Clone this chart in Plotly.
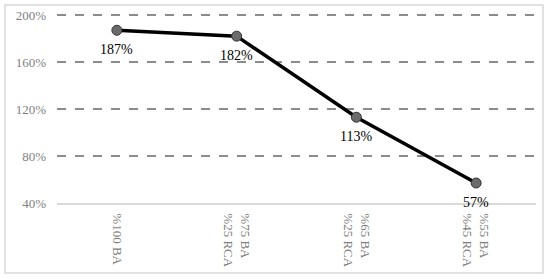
import plotly.graph_objects as go

categories = ["%100 BA", "%75 BA<br>%25 RCA", "%65 BA<br>%25 RCA", "%55 BA<br>%45 RCA"]
values = [187, 182, 113, 57]
labels = ["187%", "182%", "113%", "57%"]
yticks = [40, 80, 120, 160, 200]
yticktext = ["40%", "80%", "120%", "160%", "200%"]

fig = go.Figure()
fig.add_scatter(x=categories, y=values, mode="lines+markers",
                line=dict(color="black", width=3.5),
                marker=dict(size=10, color="#6b6b6b", line=dict(color="#333333", width=1)),
                hoverinfo="skip", cliponaxis=False)

for c, v, t in zip(categories, values, labels):
    fig.add_annotation(x=c, y=v, text=t, showarrow=False, yshift=-19,
                       font=dict(family="Liberation Serif", size=14, color="black"))

# outer chart border (plot area spans y 11..203 px, x 57..536 px)
fig.add_shape(type="rect", xref="paper", yref="paper",
              x0=-0.1086, x1=1.0146, y0=-0.365, y1=1.031,
              line=dict(color="#d9d9d9", width=1.5), layer="below")

fig.update_layout(
    width=550, height=279,
    margin=dict(l=57, r=14, t=11, b=76, autoexpand=False),
    paper_bgcolor="white", plot_bgcolor="white",
    showlegend=False,
    font=dict(family="Liberation Serif", size=13, color="#7f7f7f"),
)
fig.update_xaxes(type="category", range=[-0.5, len(categories) - 0.5],
                 tickangle=90, showgrid=False, automargin=False,
                 showline=True, linecolor="#d9d9d9", linewidth=1.5,
                 ticks="", ticklabelstandoff=6,
                 tickfont=dict(family="Liberation Serif", size=13, color="#7f7f7f"))
fig.update_yaxes(range=[40, 203.4], tickvals=yticks, ticktext=yticktext, automargin=False,
                 showgrid=True, gridcolor="#8c8c8c", griddash="dash", gridwidth=1.5,
                 zeroline=False, showline=False, ticks="", ticklabelstandoff=10,
                 tickfont=dict(family="Liberation Serif", size=13, color="#7f7f7f"))

fig.write_html("out.html", config={"displayModeBar": False},
               post_script="document.body.style.margin='0';")
